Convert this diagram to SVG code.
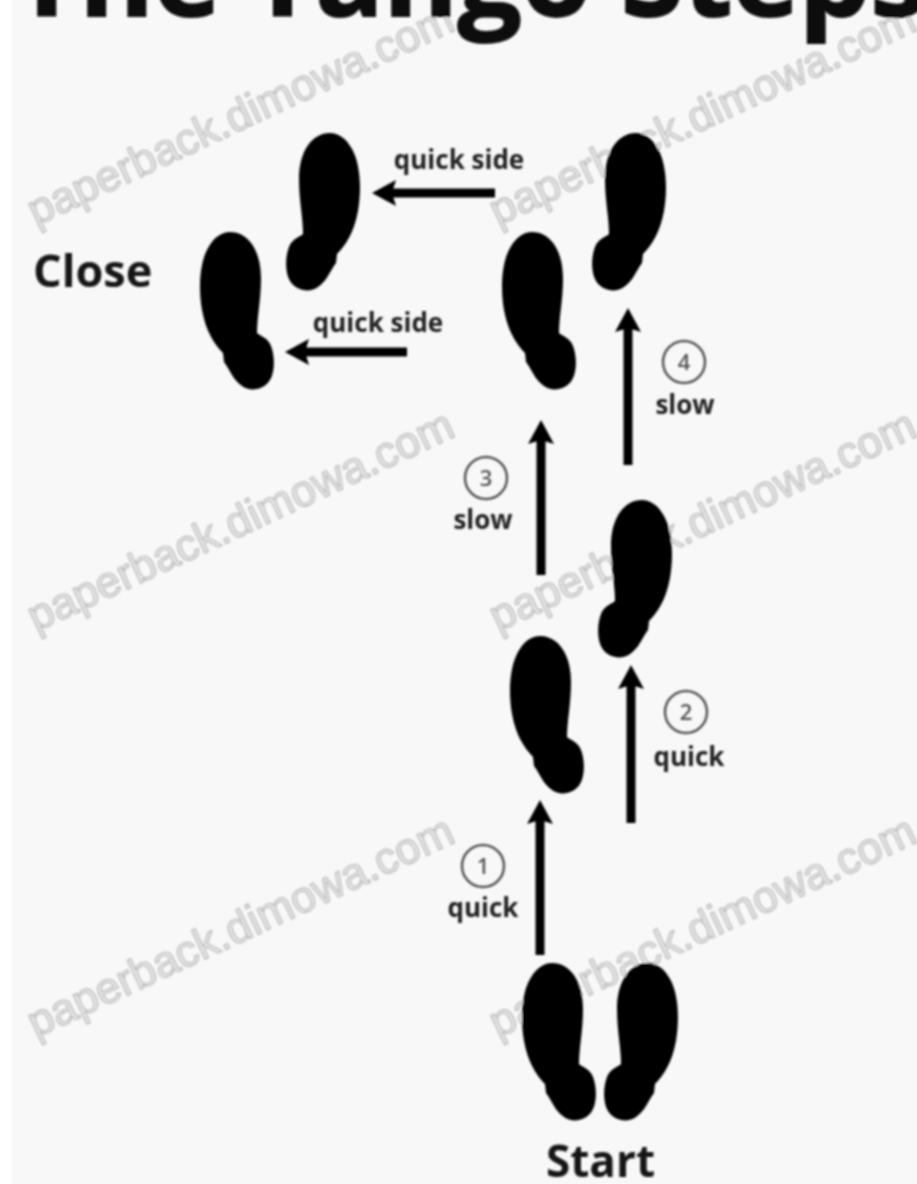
<svg xmlns="http://www.w3.org/2000/svg" width="917" height="1184" viewBox="0 0 917 1184">
<style>
text{font-family:"Open Sans","Liberation Sans",sans-serif}
.title{font-size:113px;font-weight:700;fill:#0a0a0a;stroke:#0a0a0a;stroke-width:2}
.wm{font-family:"Liberation Sans",sans-serif;font-size:44px;fill:#e4e4e4;stroke:#a8a8a8;stroke-width:.9}
.big{font-weight:700;fill:#161616}
.lab{font-size:26px;font-weight:700;fill:#222;text-anchor:middle}
.num{font-size:22px;font-weight:600;fill:#555;text-anchor:middle}
.ring{fill:none;stroke:#555;stroke-width:2.5}
.foot{fill:#050505}
.arrow{fill:none;stroke:#050505;stroke-width:9;marker-end:url(#head)}
</style>
<defs>
<filter id="soft" x="-5%" y="-5%" width="110%" height="110%"><feGaussianBlur stdDeviation="1"/></filter>
<marker id="head" markerUnits="userSpaceOnUse" markerWidth="26" markerHeight="28" refX="4" refY="14" orient="auto"><path d="M0 1L24 14L0 27L4 14Z" fill="#050505"/></marker>
<path id="footA" d="M30 0C48 0 61 18 61 46C61 68 57 85 57 101C62 105 68 106 71 114C75 124 75 140 70 148C64 158 50 160 42 154C33 148 30 138 24 130L23 121C15 113 6 100 2 78C-2 55 0 30 8 16C14 5 22 0 30 0Z"/>
</defs>
<rect width="917" height="1184" fill="#f8f8f8"/>
<rect width="12" height="1184" fill="#fff"/>
<g filter="url(#soft)">
<g id="watermarks">
<text class="wm" transform="translate(36 226) rotate(-25)">paperback.dimowa.com</text>
<text class="wm" transform="translate(498 226) rotate(-25)">paperback.dimowa.com</text>
<text class="wm" transform="translate(36 632) rotate(-25)">paperback.dimowa.com</text>
<text class="wm" transform="translate(498 632) rotate(-25)">paperback.dimowa.com</text>
<text class="wm" transform="translate(36 1038) rotate(-25)">paperback.dimowa.com</text>
<text class="wm" transform="translate(498 1038) rotate(-25)">paperback.dimowa.com</text>
</g>
<g id="title"><text class="title" x="14" y="16">The Tango Steps</text></g>
<g id="connectors">
<path class="arrow" d="M540 955V820"/>
<path class="arrow" d="M631 823V685"/>
<path class="arrow" d="M541 575V440"/>
<path class="arrow" d="M628 465V328"/>
<path class="arrow" d="M495 193H392"/>
<path class="arrow" d="M407 352H305"/>
</g>
<g id="foot-close-left" class="foot"><use href="#footA" x="200" y="232"/></g>
<g id="foot-close-right" class="foot"><use href="#footA" transform="matrix(-1 0 0 1 360 133)"/></g>
<g id="foot-3" class="foot"><use href="#footA" x="502" y="232"/></g>
<g id="foot-4" class="foot"><use href="#footA" transform="matrix(-1 0 0 1 666 133)"/></g>
<g id="foot-2" class="foot"><use href="#footA" transform="matrix(-1 0 0 1 672 500)"/></g>
<g id="foot-1" class="foot"><use href="#footA" x="510" y="636"/></g>
<g id="foot-start-left" class="foot"><use href="#footA" x="522" y="963"/></g>
<g id="foot-start-right" class="foot"><use href="#footA" transform="matrix(-1 0 0 1 678 963)"/></g>
<g id="label-close"><text class="big" font-size="45" x="33" y="287">Close</text></g>
<g id="label-start"><text class="big" font-size="44" x="546" y="1177">Start</text></g>
<g id="label-side-1"><text class="lab" x="459" y="169">quick side</text></g>
<g id="label-side-2"><text class="lab" x="378" y="332">quick side</text></g>
<g id="step-1"><circle class="ring" cx="483" cy="866" r="21"/><text class="num" x="483" y="874">1</text><text class="lab" x="483" y="917">quick</text></g>
<g id="step-2"><circle class="ring" cx="686" cy="712" r="21"/><text class="num" x="686" y="720">2</text><text class="lab" x="689" y="766">quick</text></g>
<g id="step-3"><circle class="ring" cx="486" cy="478" r="21"/><text class="num" x="486" y="486">3</text><text class="lab" x="483" y="529">slow</text></g>
<g id="step-4"><circle class="ring" cx="684" cy="362" r="21"/><text class="num" x="684" y="370">4</text><text class="lab" x="685" y="414">slow</text></g>
</g>
</svg>
